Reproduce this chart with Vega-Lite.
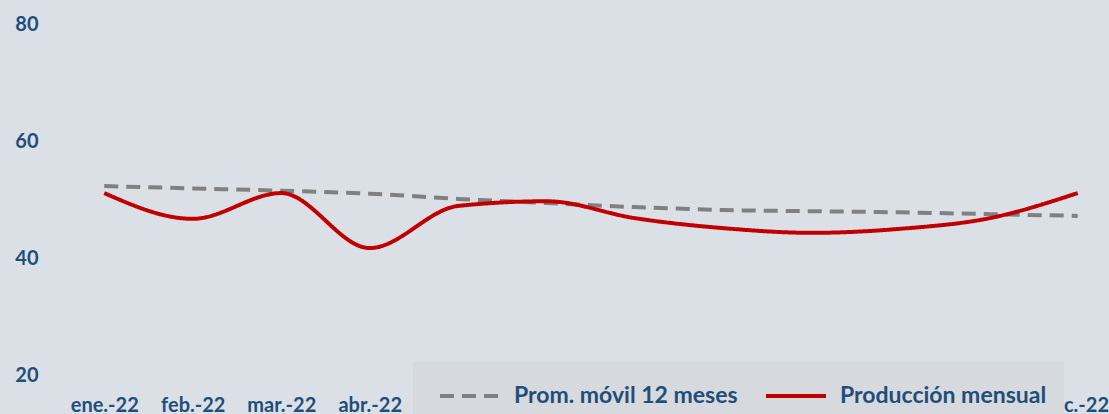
{
  "$schema": "https://vega.github.io/schema/vega-lite/v6.json",
  "autosize": {"type": "none"},
  "width": 1062,
  "height": 351,
  "padding": {"left": 60, "top": 24, "right": 0, "bottom": 39},
  "background": "#dbe0e7",
  "config": {
    "view": {"stroke": null},
    "font": "Lato",
    "axis": {"labelFont": "Lato", "labelFontWeight": "bold", "labelColor": "#1f4e79", "labelFontSize": 20, "grid": false, "domain": false, "ticks": false, "tickSize": 0, "title": null},
    "legend": {"labelFont": "Lato", "labelFontWeight": "bold", "labelColor": "#1f4e79", "labelFontSize": 23}
  },
  "data": {
    "values": [
      {"mes": "ene.-22", "serie": "Prom. móvil 12 meses", "valor": 52.3},
      {"mes": "feb.-22", "serie": "Prom. móvil 12 meses", "valor": 51.9},
      {"mes": "mar.-22", "serie": "Prom. móvil 12 meses", "valor": 51.5},
      {"mes": "abr.-22", "serie": "Prom. móvil 12 meses", "valor": 51.0},
      {"mes": "may.-22", "serie": "Prom. móvil 12 meses", "valor": 50.1},
      {"mes": "jun.-22", "serie": "Prom. móvil 12 meses", "valor": 49.4},
      {"mes": "jul.-22", "serie": "Prom. móvil 12 meses", "valor": 48.7},
      {"mes": "ago.-22", "serie": "Prom. móvil 12 meses", "valor": 48.2},
      {"mes": "sep.-22", "serie": "Prom. móvil 12 meses", "valor": 48.0},
      {"mes": "oct.-22", "serie": "Prom. móvil 12 meses", "valor": 47.8},
      {"mes": "nov.-22", "serie": "Prom. móvil 12 meses", "valor": 47.5},
      {"mes": "dic.-22", "serie": "Prom. móvil 12 meses", "valor": 47.2},
      {"mes": "ene.-22", "serie": "Producción mensual", "valor": 51.1},
      {"mes": "feb.-22", "serie": "Producción mensual", "valor": 46.7},
      {"mes": "mar.-22", "serie": "Producción mensual", "valor": 51.1},
      {"mes": "abr.-22", "serie": "Producción mensual", "valor": 41.7},
      {"mes": "may.-22", "serie": "Producción mensual", "valor": 48.9},
      {"mes": "jun.-22", "serie": "Producción mensual", "valor": 49.7},
      {"mes": "jul.-22", "serie": "Producción mensual", "valor": 46.8},
      {"mes": "ago.-22", "serie": "Producción mensual", "valor": 45.1},
      {"mes": "sep.-22", "serie": "Producción mensual", "valor": 44.3},
      {"mes": "oct.-22", "serie": "Producción mensual", "valor": 45.0},
      {"mes": "nov.-22", "serie": "Producción mensual", "valor": 46.8},
      {"mes": "dic.-22", "serie": "Producción mensual", "valor": 51.1}
    ]
  },
  "mark": {"type": "line", "interpolate": "monotone", "strokeWidth": 4, "strokeCap": "butt"},
  "encoding": {
    "x": {
      "field": "mes", "type": "ordinal", "sort": null,
      "scale": {"type": "point", "padding": 0.5},
      "axis": {"labelAngle": 0, "labelPadding": 30, "labelBaseline": "middle"}
    },
    "y": {
      "field": "valor", "type": "quantitative",
      "scale": {"domain": [20, 80], "nice": false, "zero": false},
      "axis": {"values": [20, 40, 60, 80], "labelPadding": 22}
    },
    "color": {
      "field": "serie", "type": "nominal",
      "scale": {"domain": ["Prom. móvil 12 meses", "Producción mensual"], "range": ["#808080", "#c00000"]},
      "legend": {
        "title": "MMMMMMMMMMMMMMMMMMMMMMMMMMMMMMMMMMMMMMMMMMMMMMMMMMMMMMMMMMMM", "titleOrient": "bottom", "titleFontSize": 30, "titlePadding": 0,
        "titleColor": "transparent", "titleLimit": 650,
        "orient": "none", "legendX": 353, "legendY": 338, "direction": "horizontal",
        "fillColor": "#d6d9dd", "padding": 2, "symbolType": "stroke", "symbolSize": 3600,
        "symbolStrokeWidth": 4, "symbolOffset": 23, "labelOffset": 12, "columnPadding": 3,
        "labelLimit": 500
      }
    },
    "strokeDash": {
      "field": "serie", "type": "nominal",
      "scale": {"domain": ["Prom. móvil 12 meses", "Producción mensual"], "range": [[14, 8], [1, 0]]},
      "legend": null
    }
  }
}
